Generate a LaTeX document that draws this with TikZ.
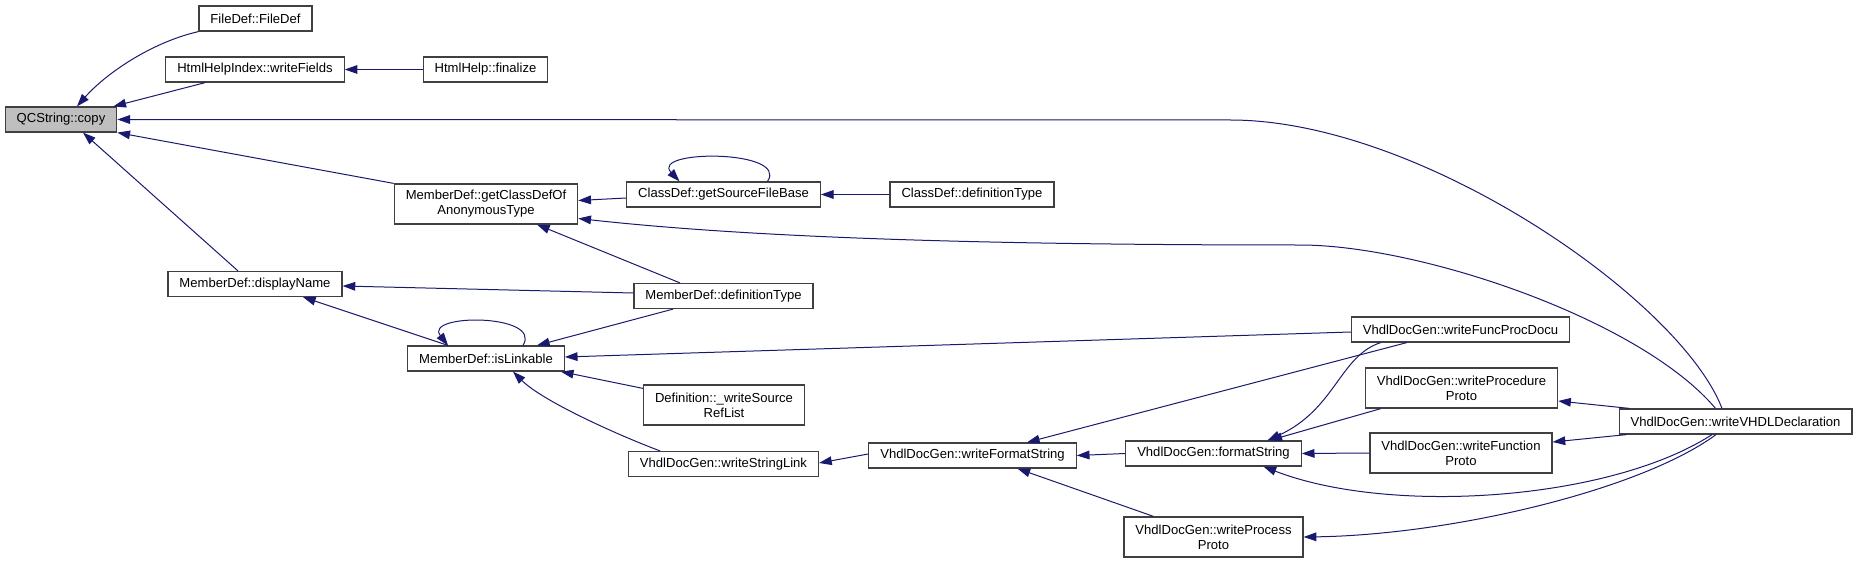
\documentclass[tikz,border=0pt]{standalone}
\usepackage{fontspec}
\setmainfont{Liberation Sans}
\usetikzlibrary{arrows.meta, positioning, calc}

\definecolor{edgeblue}{HTML}{191970}
\definecolor{boxgray}{HTML}{404040}
\definecolor{focusfill}{HTML}{BFBFBF}

\begin{document}
\begin{tikzpicture}[
		% Estilos del grafo de llamadas (unidades en pixeles de la imagen)
		x=0.75pt, y=-0.75pt,
		fn/.style = {draw=boxgray, line width=0.9pt, fill=white, rectangle, inner xsep=8.6pt, inner ysep=1pt, minimum height=18.75pt, align=center, font=\fontsize{9.8}{11.25}\selectfont},
		fntwo/.style = {fn, minimum height=30pt},
		focus/.style = {fn, fill=focusfill},
		call/.style = {->, draw=edgeblue, line width=0.75pt},
		>={Triangle[length=9.5pt, width=6.5pt]}
		]
		\useasboundingbox (0,0) rectangle (1859,563);
		
		% --- NODOS ---
		% Funcion analizada
		\node [focus] (qcopy) at (61,119.5) {QCString::copy};
		
		% Primer nivel de llamadores
		\node [fn] (filedef) at (255.5,18.5) {FileDef::FileDef};
		\node [fn] (writefields) at (255,69.5) {HtmlHelpIndex::writeFields};
		\node [fn] (finalize) at (485.5,69.5) {HtmlHelp::finalize};
		\node [fntwo] (anontype) at (486,204) {MemberDef::getClassDefOf\\AnonymousType};
		\node [fn] (dispname) at (255,284) {MemberDef::displayName};
		\node [fn] (islinkable) at (486,358.5) {MemberDef::isLinkable};
		
		% Segundo nivel
		\node [fn] (srcbase) at (723.5,194.5) {ClassDef::getSourceFileBase};
		\node [fn] (cdeftype) at (972,194.5) {ClassDef::definitionType};
		\node [fn] (mdeftype) at (723.5,296) {MemberDef::definitionType};
		\node [fntwo] (srcreflist) at (724,405) {Definition::\_writeSource\\RefList};
		\node [fn] (stringlink) at (723.5,464) {VhdlDocGen::writeStringLink};
		
		% Generador VHDL
		\node [fn] (fmtstring) at (972.5,455.5) {VhdlDocGen::writeFormatString};
		\node [fn] (formatstr) at (1213.5,453.5) {VhdlDocGen::formatString};
		\node [fntwo] (processproto) at (1213.5,537) {VhdlDocGen::writeProcess\\Proto};
		\node [fn] (funcprocdocu) at (1460.5,329.5) {VhdlDocGen::writeFuncProcDocu};
		\node [fntwo] (procproto) at (1461.5,388) {VhdlDocGen::writeProcedure\\Proto};
		\node [fntwo] (funcproto) at (1461,453) {VhdlDocGen::writeFunction\\Proto};
		\node [fn] (vhdldecl) at (1735.5,421.5) {VhdlDocGen::writeVHDLDeclaration};
		
		% --- CONEXIONES ---
		% Llamadas a QCString::copy
		\draw [call] (filedef.south west) .. controls +(-48,11) and +(28,-32) .. ($(qcopy.north)+(16,0)$);
		\draw [call] ($(writefields.south west)+(40,0)$) -- ($(qcopy.north east)+(-4,0)$);
		\draw [call] ($(vhdldecl.north)+(-13.5,0)$) .. controls +(-42,-109) and +(190,0) .. ($(qcopy.east)+(1113,0.5)$) -- (qcopy.east);
		\draw [call] (anontype.north west) -- (qcopy.south east);
		\draw [call] ($(dispname.north)+(-17,0)$) -- ($(qcopy.south)+(22,0)$);
		\draw [call] (finalize) -- (writefields);
		
		% Rama de getClassDefOfAnonymousType
		\draw [call] ($(srcbase.west)+(0,3.5)$) -- ($(anontype.east)+(0,-3.5)$);
		\draw [call] ($(srcbase.north)+(44,0)$) .. controls +(22,-32) and +(-30,-32) .. ($(srcbase.north)+(-44,0)$);
		\draw [call] (cdeftype) -- (srcbase);
		\draw [call] ($(vhdldecl.north)+(-20,0)$) .. controls +(-75,-89) and +(120,0) .. (1300,245) .. controls +(-300,0) and +(181,20) .. ($(anontype.east)+(0,14.5)$);
		\draw [call] ($(mdeftype.north)+(-43.5,0)$) -- ($(anontype.south)+(51,0)$);
		
		% Rama de displayName / isLinkable
		\draw [call] ($(mdeftype.west)+(0,-3)$) -- ($(dispname.east)+(0,2)$);
		\draw [call] ($(islinkable.north)+(-38,0)$) -- ($(dispname.south)+(48,0)$);
		\draw [call] ($(islinkable.north)+(37,0)$) .. controls +(20,-32) and +(-25,-32) .. ($(islinkable.north)+(-38,0)$);
		\draw [call] ($(mdeftype.south)+(-50.5,0)$) -- ($(islinkable.north)+(51,0)$);
		\draw [call] ($(funcprocdocu.west)+(0,2.5)$) -- ($(islinkable.east)+(0,-1.5)$);
		\draw [call] ($(srcreflist.north west)+(0,4)$) -- ($(islinkable.south east)+(-4,0)$);
		\draw [call] ($(stringlink.north)+(-63.5,0)$) .. controls +(-40,-15) and +(30,30) .. ($(islinkable.south)+(27,0)$);
		
		% Cadena de formato VHDL
		\draw [call] ($(fmtstring.west)+(0,-1.5)$) -- ($(stringlink.east)+(0,-1)$);
		\draw [call] ($(funcprocdocu.south west)+(56,0)$) -- ($(fmtstring.north)+(54.5,0)$);
		\draw [call] (formatstr.west) -- (fmtstring.east);
		\draw [call] ($(processproto.north)+(-60,0)$) -- ($(fmtstring.south)+(45,0)$);
		\draw [call] ($(funcprocdocu.south west)+(30,0)$) .. controls +(-41,13) and +(68,-31) .. ($(formatstr.north)+(54,0)$);
		\draw [call] ($(procproto.south west)+(16,0)$) -- ($(formatstr.north)+(56,0)$);
		\draw [call] (funcproto.west) -- (formatstr.east);
		
		% Salidas de writeVHDLDeclaration
		\draw [call] ($(vhdldecl.south)+(-23.5,0)$) .. controls +(-102,66) and +(126.5,49) .. ($(formatstr.south)+(50,0)$);
		\draw [call] ($(vhdldecl.south)+(-19.5,0)$) .. controls +(-76,56) and +(146,-2) .. (processproto.east);
		\draw [call] ($(vhdldecl.north west)+(11,0)$) -- ($(procproto.east)+(0,13)$);
		\draw [call] ($(vhdldecl.south west)+(8,0)$) -- ($(funcproto.east)+(0,-11)$);
		
	\end{tikzpicture}
\end{document}
